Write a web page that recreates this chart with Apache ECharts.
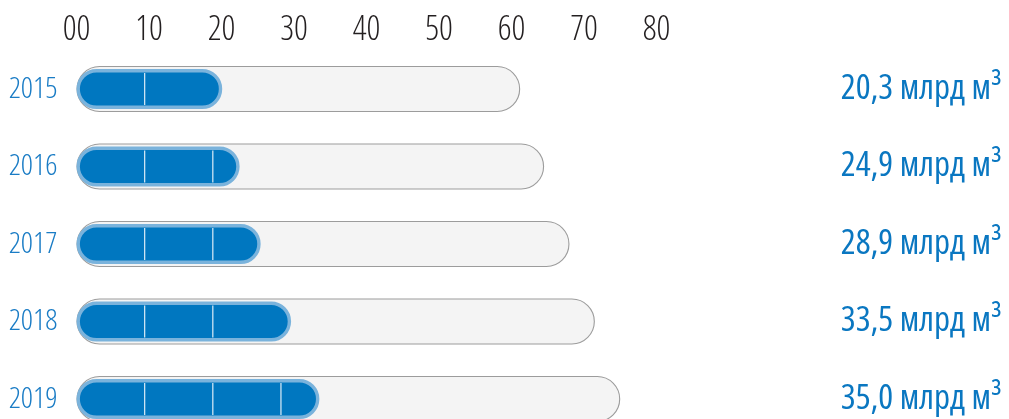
<!DOCTYPE html>
<html><head><meta charset="utf-8">
<script src="https://cdn.jsdelivr.net/npm/echarts@6/dist/echarts.min.js"></script>
<style>html,body{margin:0;padding:0;background:#fff}#c{width:1009px;height:419px}</style>
</head><body><div id="c"></div>
<script>
var years = ['2015', '2016', '2017', '2018', '2019'];
var trackValues = [61.2, 64.5, 68.0, 71.5, 75.0];
var barValues = [20.1, 22.5, 25.4, 29.6, 33.5];
var valueLabels = ['20,3 млрд м³', '24,9 млрд м³', '28,9 млрд м³', '33,5 млрд м³', '35,0 млрд м³'];
var xTickLabels = ['00', '10', '20', '30', '40', '50', '60', '70', '80'];
var dividerValues = [9.4, 18.8, 28.2];
var dividerCounts = [1, 2, 2, 2, 3];

var FONT = '"Open Sans"';
var dividers = [];
years.forEach(function (y, i) {
  for (var k = 0; k < dividerCounts[i]; k++) dividers.push([dividerValues[k], y]);
});

var chart = echarts.init(document.getElementById('c'), null, {renderer: 'canvas'});
chart.setOption({
  animation: false,
  grid: {left: 76.5, right: 352.5, top: 50.25, bottom: -18.75, containLabel: false, outerBoundsMode: 'none'},
  xAxis: {
    type: 'value', position: 'top', min: 0, max: 80, interval: 10,
    axisLine: {show: false}, axisTick: {show: false}, splitLine: {show: false},
    axisLabel: {
      margin: 3, color: '#231f20', fontFamily: FONT, fontStyle: 'condensed', fontWeight: 300, fontSize: 34,
      formatter: function (v) { return xTickLabels[Math.round(v / 10)]; }
    }
  },
  yAxis: [{
    type: 'category', data: years, inverse: true, position: 'left',
    axisLine: {show: false}, axisTick: {show: false},
    axisLabel: {margin: 19, color: '#1a7cc5', fontFamily: FONT, fontStyle: 'condensed', fontWeight: 300, fontSize: 30}
  }, {
    type: 'category', data: years, inverse: true, position: 'right',
    axisLine: {show: false}, axisTick: {show: false},
    axisLabel: {
      margin: 345.5, align: 'right', color: '#0a77c1', fontFamily: FONT, fontStyle: 'condensed', fontSize: 35,
      formatter: function (v, i) { return valueLabels[i]; }
    }
  }],
  series: [{
    type: 'bar', yAxisIndex: 0, data: trackValues, barWidth: 46,
    itemStyle: {color: '#f4f4f4', borderColor: '#9c9c9c', borderWidth: 1.1, borderRadius: 23},
    z: 1
  }, {
    type: 'bar', yAxisIndex: 1, data: barValues, barWidth: 40,
    itemStyle: {color: '#0077c0', borderColor: '#7ab3dc', borderWidth: 3.4, borderRadius: 20},
    z: 2
  }, {
    type: 'scatter', yAxisIndex: 0, data: dividers, symbol: 'rect', symbolSize: [1.3, 32],
    itemStyle: {color: '#ffffff'}, z: 3, silent: true
  }]
});
</script></body></html>
